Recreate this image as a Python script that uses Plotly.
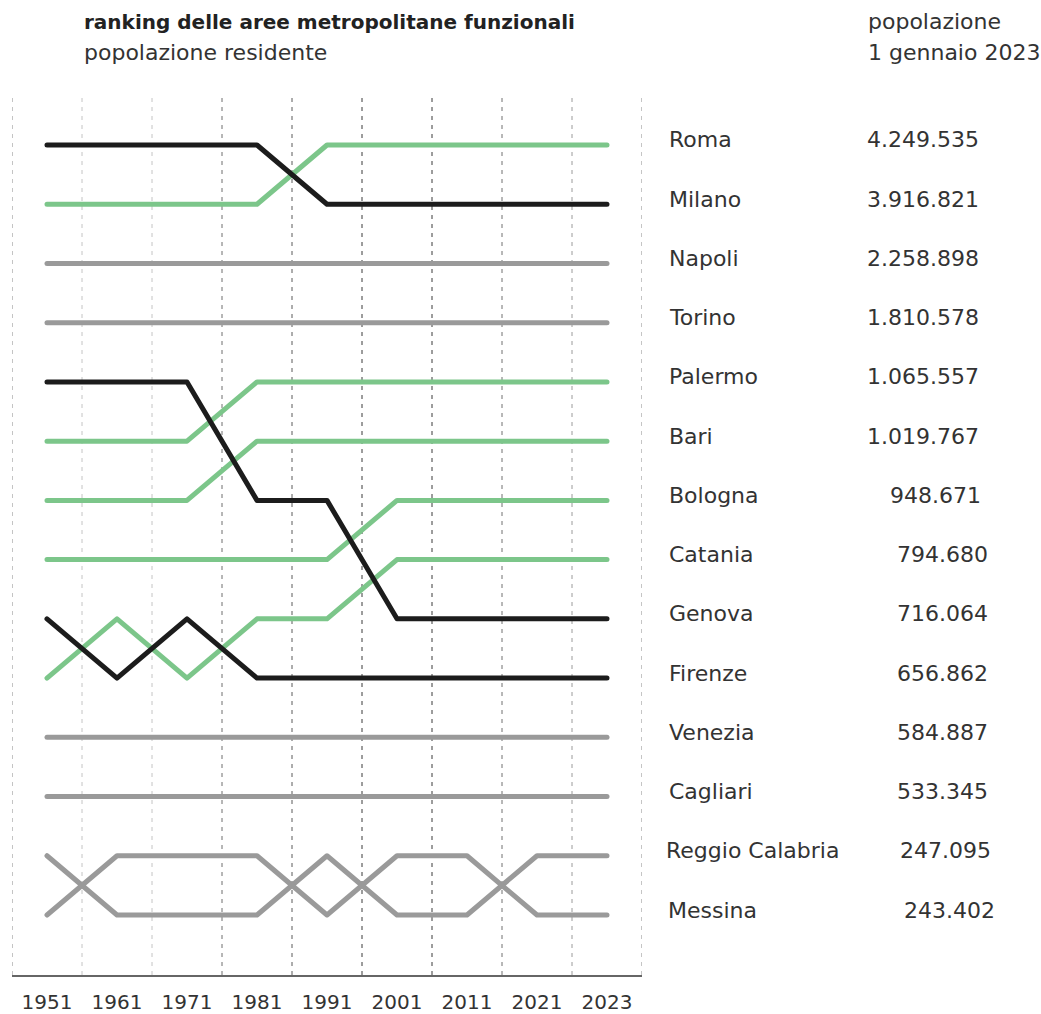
import plotly.graph_objects as go

years = ["1951", "1961", "1971", "1981", "1991", "2001", "2011", "2021", "2023"]

cities = ["Roma", "Milano", "Napoli", "Torino", "Palermo", "Bari", "Bologna",
          "Catania", "Genova", "Firenze", "Venezia", "Cagliari",
          "Reggio Calabria", "Messina"]

population_2023 = ["4.249.535", "3.916.821", "2.258.898", "1.810.578", "1.065.557",
                   "1.019.767", "948.671", "794.680", "716.064", "656.862",
                   "584.887", "533.345", "247.095", "243.402"]

rank_roma = [2, 2, 2, 2, 1, 1, 1, 1, 1]
rank_milano = [1, 1, 1, 1, 2, 2, 2, 2, 2]
rank_napoli = [3, 3, 3, 3, 3, 3, 3, 3, 3]
rank_torino = [4, 4, 4, 4, 4, 4, 4, 4, 4]
rank_palermo = [6, 6, 6, 5, 5, 5, 5, 5, 5]
rank_bari = [7, 7, 7, 6, 6, 6, 6, 6, 6]
rank_bologna = [8, 8, 8, 8, 8, 7, 7, 7, 7]
rank_catania = [10, 9, 10, 9, 9, 8, 8, 8, 8]
rank_genova = [5, 5, 5, 7, 7, 9, 9, 9, 9]
rank_firenze = [9, 10, 9, 10, 10, 10, 10, 10, 10]
rank_venezia = [11, 11, 11, 11, 11, 11, 11, 11, 11]
rank_cagliari = [12, 12, 12, 12, 12, 12, 12, 12, 12]
rank_reggio = [13, 14, 14, 14, 13, 14, 14, 13, 13]
rank_messina = [14, 13, 13, 13, 14, 13, 13, 14, 14]

ranks = [rank_roma, rank_milano, rank_napoli, rank_torino, rank_palermo, rank_bari,
         rank_bologna, rank_catania, rank_genova, rank_firenze, rank_venezia,
         rank_cagliari, rank_reggio, rank_messina]

# trend group: "up" (green), "down" (black), "same" (gray)
trend = ["up", "down", "same", "same", "up", "up", "up", "up", "down", "down",
         "same", "same", "same", "same"]

colors = {"up": "#7cc68a", "down": "#1c1c1c", "same": "#9a9a9a"}
draw_order = ["same", "up", "down"]

W, H = 1041, 1014
L, R, T, B = 12, 642, 95, 975
FONT = "DejaVu Sans, Liberation Sans, sans-serif"
TXT = "#333333"


def px_x(px):
    return (px - L) / (R - L)


def px_y(py):
    return (B - py) / (B - T)


fig = go.Figure()
for grp in draw_order:
    for name, rk, tr in zip(cities, ranks, trend):
        if tr != grp:
            continue
        fig.add_trace(go.Scatter(
            x=years, y=rk, mode="lines", name=name,
            line=dict(color=colors[tr], width=5),
            hoverinfo="x+name", showlegend=False,
        ))

# vertical dashed separators
sep_colors = ["#8a8a8a", "#c4c4c4", "#c4c4c4", "#6e6e6e", "#5a5a5a",
              "#3a3a3a", "#3a3a3a", "#707070", "#9a9a9a", "#8a8a8a"]
for i, c in enumerate(sep_colors):
    fig.add_shape(type="line", xref="x", yref="paper", x0=i - 0.5, x1=i - 0.5,
                  y0=0, y1=1, line=dict(color=c, width=1, dash="4px,5px"),
                  layer="below")

annotations = []
name_px = [667] * 12 + [664, 666]
value_px = [865, 865, 865, 865, 865, 865, 888, 895, 895, 895, 895, 895, 898, 902]
for i, (name, val) in enumerate(zip(cities, population_2023)):
    rank_final = ranks[i][-1]
    annotations.append(dict(xref="paper", yref="y", x=px_x(name_px[i]), y=rank_final,
                            text=name, showarrow=False, xanchor="left", yanchor="middle",
                            yshift=5, font=dict(family=FONT, size=22, color=TXT)))
    annotations.append(dict(xref="paper", yref="y", x=px_x(value_px[i]), y=rank_final,
                            text=val, showarrow=False, xanchor="left", yanchor="middle",
                            yshift=5, font=dict(family=FONT, size=22, color=TXT)))

annotations += [
    dict(xref="paper", yref="paper", x=px_x(82), y=px_y(22), text="<b>ranking delle aree metropolitane funzionali</b>",
         showarrow=False, xanchor="left", yanchor="middle",
         font=dict(family=FONT, size=20, color="#222222")),
    dict(xref="paper", yref="paper", x=px_x(82), y=px_y(52), text="popolazione residente",
         showarrow=False, xanchor="left", yanchor="middle",
         font=dict(family=FONT, size=22, color=TXT)),
    dict(xref="paper", yref="paper", x=px_x(866), y=px_y(22), text="popolazione",
         showarrow=False, xanchor="left", yanchor="middle",
         font=dict(family=FONT, size=22, color=TXT)),
    dict(xref="paper", yref="paper", x=px_x(866), y=px_y(52), text="1 gennaio 2023",
         showarrow=False, xanchor="left", yanchor="middle",
         font=dict(family=FONT, size=22, color=TXT)),
]

fig.update_layout(
    width=W, height=H,
    margin=dict(l=L, r=W - R, t=T, b=H - B, pad=0, autoexpand=False),
    plot_bgcolor="white", paper_bgcolor="white",
    annotations=annotations,
    xaxis=dict(type="category", categoryorder="array", categoryarray=years,
               range=[-0.5, 8.5], showgrid=False, zeroline=False,
               showline=True, linecolor="#666666", linewidth=1.5,
               ticks="outside", ticklen=8, tickcolor="rgba(0,0,0,0)",
               tickfont=dict(family=FONT, size=20, color=TXT), fixedrange=True,
               automargin=False),
    yaxis=dict(range=[15.013, 0.156], visible=False, showgrid=False,
               zeroline=False, fixedrange=True, automargin=False),
    font=dict(family=FONT),
)

fig.write_html(
    "out.html",
    config={"displayModeBar": False},
    post_script=(
        "document.body.style.margin='0';document.body.style.padding='0';"
        "document.querySelectorAll('.js-line').forEach(function(e){"
        "e.style.strokeLinecap='round';e.style.strokeLinejoin='round';});"
    ),
)
